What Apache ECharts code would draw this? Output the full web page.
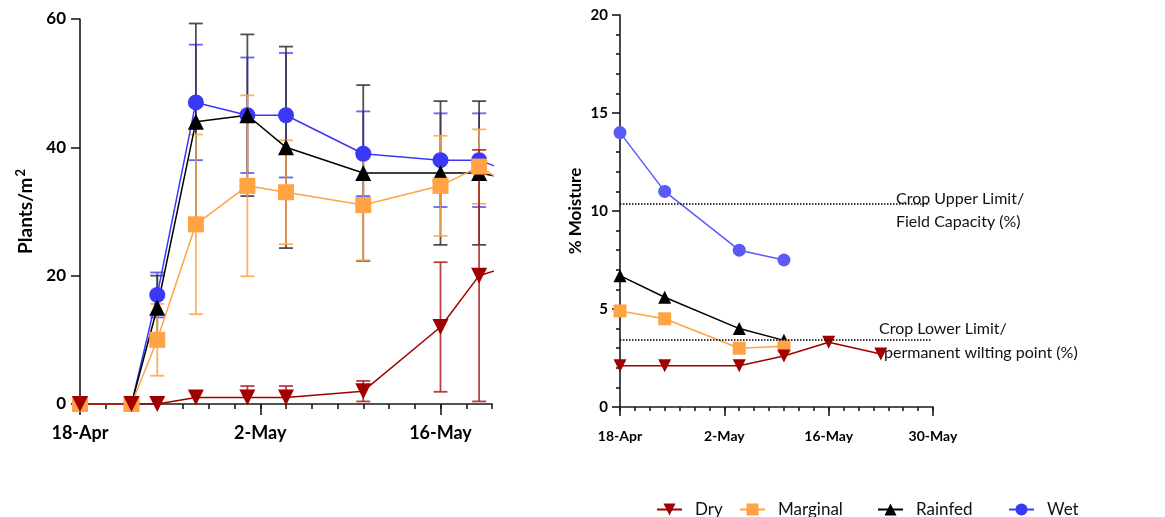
<!DOCTYPE html>
<html>
<head>
<meta charset="utf-8">
<script src="https://cdn.jsdelivr.net/npm/echarts@6/dist/echarts.min.js"></script>
<style>
html,body{margin:0;padding:0;background:#fff;}
#c{width:1165px;height:517px;}
</style>
</head>
<body>
<div id="c"></div>
<script>
// ---------- DATA ----------
// Left panel: plants per m2 (days after 18-Apr)
const leftDays = [0, 4, 6, 9, 13, 16, 22, 28, 31, 35];
const dryPlants = [0, 0, 0, 1, 1, 1, 2, 12, 20, 22.5];
const dryPlantsErr = [null, null, null, null, 1.8, 1.8, 1.6, 10.1, 19.6, null];
const marginalPlants = [0, 0, 10, 28, 34, 33, 31, 34, 37, 32];
const marginalPlantsErr = [null, null, 5.6, 14, 14.1, 8.1, 8.6, 7.8, 5.8, null];
const rainfedPlants = [0, 0, 15, 44, 45, 40, 36, 36, 36, 34.5];
const rainfedPlantsErr = [null, null, 5, 15.3, 12.6, 15.7, 13.7, 11.2, 11.2, null];
const wetPlants = [0, 0, 17, 47, 45, 45, 39, 38, 38, 35];
const wetPlantsErr = [null, null, 3.5, 9, 9, 9.7, 6.6, 7.3, 7.3, null];

// Right panel: % moisture
const moistDays = [0, 6, 16, 22];
const dryMoistDays = [0, 6, 16, 22, 28, 35];
const dryMoist = [2.1, 2.1, 2.1, 2.6, 3.3, 2.7];
const marginalMoist = [4.9, 4.5, 3.0, 3.1];
const rainfedMoist = [6.7, 5.6, 4.0, 3.4];
const wetMoist = [14, 11, 8, 7.5];
const upperLimit = 10.35;
const lowerLimit = 3.45;

// Tick labels
const tickDays = [0, 14, 28, 42];
const tickLabels = ['18-Apr', '2-May', '16-May', '30-May'];
const seriesNames = ['Dry', 'Marginal', 'Rainfed', 'Wet'];

// ---------- STYLE ----------
const FONT = 'Lato';
const C = {
  Dry: '#a00000',
  Marginal: '#ffa345',
  Rainfed: '#000000',
  WetL: '#3838f6',
  WetR: '#5a5af8'
};
const ERRC = { Dry: '#b02020', Marginal: '#ffa345', Rainfed: '#333333', Wet: '#4a4af6' };
const SYM = {
  Dry: { symbol: 'triangle', symbolRotate: 180 },
  Marginal: { symbol: 'rect', symbolRotate: 0 },
  Rainfed: { symbol: 'triangle', symbolRotate: 0 },
  Wet: { symbol: 'circle', symbolRotate: 0 }
};

function zip(xs, ys) { return xs.map((x, i) => [x, ys[i]]); }
function evenTicks(max) { const a = []; for (let d = 0; d <= max; d += 2) a.push(d); return a; }
function dayLabel(v) { const i = tickDays.indexOf(v); return i >= 0 ? tickLabels[i] : ''; }

function lineSeries(name, xs, ys, color, size, xi, yi) {
  return {
    type: 'line', name: name, xAxisIndex: xi, yAxisIndex: yi,
    data: zip(xs, ys),
    symbol: SYM[name].symbol, symbolRotate: SYM[name].symbolRotate, symbolSize: size,
    lineStyle: { color: color, width: 1.5 },
    itemStyle: { color: color, opacity: 1 },
    clip: true, animation: false, z: 3
  };
}

function errSeries(name, xs, ys, es, color) {
  const data = [];
  xs.forEach((x, i) => { if (es[i] != null) data.push([x, ys[i], es[i]]); });
  return {
    type: 'custom', name: name + ' err', xAxisIndex: 0, yAxisIndex: 0,
    data: data, animation: false, z: 2, silent: true,
    encode: { x: 0, y: 1 },
    renderItem: function (params, api) {
      const x = api.value(0), y = api.value(1), e = api.value(2);
      const hiV = y + e, loV = y - e;
      const top = api.coord([x, hiV]);
      const bot = api.coord([x, Math.max(loV, 0)]);
      const w = 7;
      const st = { stroke: color, lineWidth: 1.8, opacity: 0.85 };
      const ch = [
        { type: 'line', shape: { x1: top[0], y1: top[1], x2: bot[0], y2: bot[1] }, style: st },
        { type: 'line', shape: { x1: top[0] - w, y1: top[1], x2: top[0] + w, y2: top[1] }, style: st }
      ];
      if (loV >= 0) ch.push({ type: 'line', shape: { x1: bot[0] - w, y1: bot[1], x2: bot[0] + w, y2: bot[1] }, style: st });
      return { type: 'group', children: ch };
    }
  };
}

const axisLineStyle = { color: '#1a1a1a', width: 1.6 };

const option = {
  backgroundColor: '#ffffff',
  animation: false,
  grid: [
    { left: 80, top: 19, width: 412, height: 385 },
    { left: 620, top: 15, width: 313, height: 392 }
  ],
  xAxis: [
    { // left minor ticks + labels
      type: 'value', gridIndex: 0, min: 0, max: 32, position: 'bottom',
      axisLine: { show: true, onZero: false, lineStyle: axisLineStyle },
      axisTick: { show: true, length: 5, customValues: evenTicks(32), lineStyle: axisLineStyle },
      axisLabel: { customValues: [0, 14, 28], formatter: dayLabel, margin: 20, fontFamily: FONT, fontWeight: 'bold', fontSize: 18, color: '#000' },
      splitLine: { show: false }
    },
    { // left major ticks
      type: 'value', gridIndex: 0, min: 0, max: 32, position: 'bottom', offset: 0,
      axisLine: { show: false },
      axisTick: { show: true, length: 11, customValues: [0, 14, 28], lineStyle: axisLineStyle },
      axisLabel: { show: false }, splitLine: { show: false }
    },
    { // right minor ticks + labels
      type: 'value', gridIndex: 1, min: 0, max: 42, position: 'bottom',
      axisLine: { show: true, onZero: false, lineStyle: axisLineStyle },
      axisTick: { show: true, length: 4, customValues: evenTicks(42), lineStyle: axisLineStyle },
      axisLabel: { customValues: tickDays, formatter: dayLabel, margin: 22, fontFamily: FONT, fontWeight: 'bold', fontSize: 14, color: '#000' },
      splitLine: { show: false }
    },
    { // right major ticks
      type: 'value', gridIndex: 1, min: 0, max: 42, position: 'bottom', offset: 0,
      axisLine: { show: false },
      axisTick: { show: true, length: 9, customValues: tickDays, lineStyle: axisLineStyle },
      axisLabel: { show: false }, splitLine: { show: false }
    }
  ],
  yAxis: [
    {
      type: 'value', gridIndex: 0, min: 0, max: 60, interval: 20,
      name: '{a|Plants/m}{b|2}', nameLocation: 'middle', nameGap: 42, nameRotate: 90,
      nameTextStyle: {
        fontFamily: FONT, fontWeight: 'bold', fontSize: 19, color: '#000',
        rich: {
          a: { fontFamily: FONT, fontWeight: 'bold', fontSize: 19, color: '#000', lineHeight: 24 },
          b: { fontFamily: FONT, fontWeight: 'bold', fontSize: 13, color: '#000', verticalAlign: 'top', lineHeight: 24, padding: [0, 0, 10, 1] }
        }
      },
      axisLine: { show: true, onZero: false, lineStyle: axisLineStyle },
      axisTick: { show: true, length: 9, lineStyle: axisLineStyle },
      axisLabel: { margin: 14, fontFamily: FONT, fontWeight: 'bold', fontSize: 17, color: '#000' },
      splitLine: { show: false }
    },
    {
      type: 'value', gridIndex: 1, min: 0, max: 20, interval: 5,
      name: '% Moisture', nameLocation: 'middle', nameGap: 36, nameRotate: 90,
      nameTextStyle: { fontFamily: FONT, fontWeight: 'bold', fontSize: 17, color: '#000' },
      axisLine: { show: true, onZero: false, lineStyle: axisLineStyle },
      axisTick: { show: true, length: 8, lineStyle: axisLineStyle },
      minorTick: { show: true, splitNumber: 5, length: 4, lineStyle: axisLineStyle },
      axisLabel: { margin: 12, fontFamily: FONT, fontWeight: 'bold', fontSize: 15, color: '#000' },
      splitLine: { show: false }
    }
  ],
  legend: [
    ['Dry', 651], ['Marginal', 734], ['Rainfed', 872], ['Wet', 1003]
  ].map(function (p) {
    return {
      data: [p[0]], left: p[1], top: 496, itemWidth: 25, itemHeight: 15, itemGap: 0,
      textStyle: { fontFamily: FONT, fontSize: 17, color: '#111', padding: [0, 0, 0, 8] },
      selectedMode: false
    };
  }),
  graphic: [
    { type: 'text', style: { text: 'Crop Upper Limit/', x: 896, y: 199, font: '16px Lato', fill: '#111', verticalAlign: 'middle' } },
    { type: 'text', style: { text: 'Field Capacity (%)', x: 896, y: 222, font: '16px Lato', fill: '#111', verticalAlign: 'middle' } },
    { type: 'text', style: { text: 'Crop Lower Limit/', x: 879, y: 329, font: '16px Lato', fill: '#111', verticalAlign: 'middle' } },
    { type: 'text', style: { text: 'permanent wilting point (%)', x: 884, y: 353, font: '16px Lato', fill: '#111', verticalAlign: 'middle' } }
  ],
  series: [
    // left error bars
    errSeries('Wet', leftDays, wetPlants, wetPlantsErr, ERRC.Wet),
    errSeries('Rainfed', leftDays, rainfedPlants, rainfedPlantsErr, ERRC.Rainfed),
    errSeries('Marginal', leftDays, marginalPlants, marginalPlantsErr, ERRC.Marginal),
    errSeries('Dry', leftDays, dryPlants, dryPlantsErr, ERRC.Dry),
    // left lines
    lineSeries('Wet', leftDays, wetPlants, C.WetL, 16, 0, 0),
    lineSeries('Rainfed', leftDays, rainfedPlants, C.Rainfed, 16, 0, 0),
    lineSeries('Marginal', leftDays, marginalPlants, C.Marginal, 16, 0, 0),
    lineSeries('Dry', leftDays, dryPlants, C.Dry, 16, 0, 0),
    // right lines
    lineSeries('Wet', moistDays, wetMoist, C.WetR, 13, 2, 1),
    lineSeries('Rainfed', moistDays, rainfedMoist, C.Rainfed, 13, 2, 1),
    lineSeries('Marginal', moistDays, marginalMoist, C.Marginal, 13, 2, 1),
    lineSeries('Dry', dryMoistDays, dryMoist, C.Dry, 13, 2, 1),
    // limit lines
    {
      type: 'line', name: 'limits', xAxisIndex: 2, yAxisIndex: 1, data: [], silent: true,
      markLine: {
        symbol: 'none', silent: true, animation: false,
        label: { show: false },
        lineStyle: { color: '#000', type: 'dotted', width: 1.5 },
        data: [
          [{ coord: [0, upperLimit] }, { coord: [41.5, upperLimit] }],
          [{ coord: [0, lowerLimit] }, { coord: [41.8, lowerLimit] }]
        ]
      }
    }
  ]
};

const chart = echarts.init(document.getElementById('c'), null, { renderer: 'canvas' });
chart.setOption(option);
</script>
</body>
</html>
